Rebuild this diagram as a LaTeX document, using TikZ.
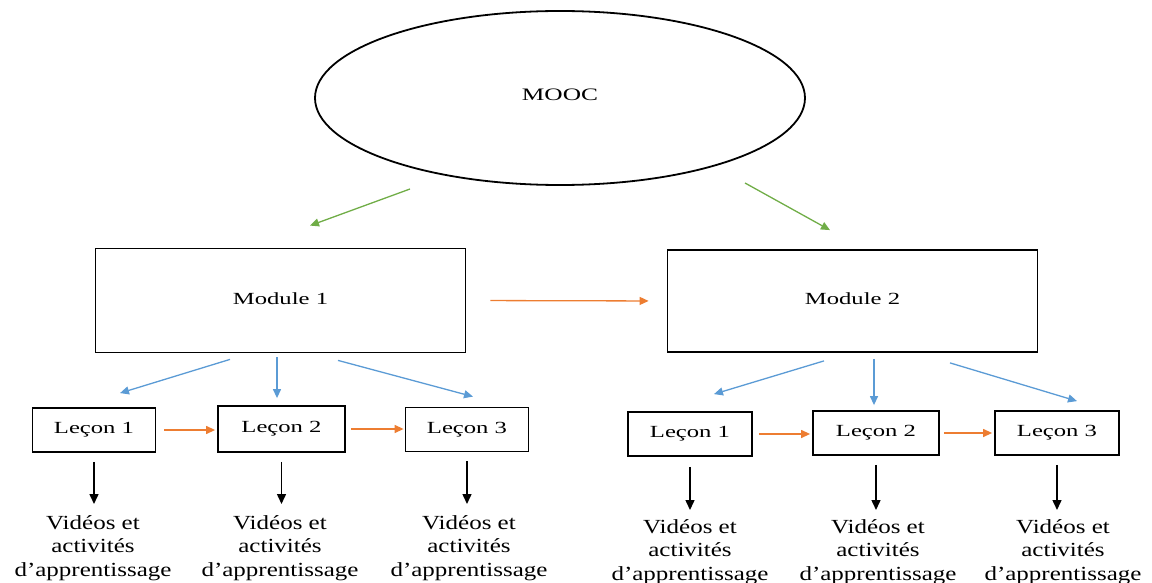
\documentclass[tikz,border=0pt]{standalone}
\usepackage{fontspec}
\setmainfont{Liberation Serif}
\newfontfamily\boxfont[FakeStretch=1.45]{Liberation Serif}
\newfontfamily\notefont[FakeStretch=1.25]{Liberation Serif}
\usetikzlibrary{arrows.meta,shapes.geometric}
\definecolor{arrgreen}{RGB}{112,173,71}
\definecolor{arrblue}{RGB}{91,155,213}
\definecolor{arrorange}{RGB}{237,125,49}
\begin{document}
\begin{tikzpicture}[x=1pt,y=-1pt,
  frame/.style={draw,line width=1.8pt,inner sep=0pt,
    font=\boxfont\fontsize{17}{20}\selectfont},
  lesson/.style={frame,minimum width=123pt,minimum height=44pt},
  module/.style={frame,minimum width=370pt,minimum height=104pt},
  note/.style={align=center,inner sep=0pt,
    font=\notefont\fontsize{20}{23.5}\selectfont},
  link/.style={line width=1.3pt,-{Triangle[length=9pt,width=8pt]}},
  greenlink/.style={link,arrgreen},
  bluelink/.style={link,arrblue},
  orangelink/.style={link,arrorange},
  blacklink/.style={line width=1.5pt,black,-{Triangle[length=10pt,width=9pt]}}]
\useasboundingbox (0,0) rectangle (1152,583);

% course
\node[frame,ellipse,minimum width=490pt,minimum height=174pt,
  font=\boxfont\fontsize{17.5}{20}\selectfont] (mooc) at (560,98) {\raisebox{7pt}{MOOC}};

% modules
\node[module] (m1) at (280.5,300.5) {\raisebox{4pt}{Module 1}};
\node[module,minimum height=102pt] (m2) at (852.5,301) {\raisebox{4pt}{Module 2}};

% lessons of module 1
\node[lesson] (a1) at (94,430) {\raisebox{2pt}{Leçon 1}};
\node[lesson,minimum width=127pt,minimum height=46pt] (a2) at (281.5,429) {\raisebox{2pt}{Leçon 2}};
\node[lesson] (a3) at (467,429.5) {\raisebox{2pt}{Leçon 3}};

% lessons of module 2
\node[lesson,minimum width=124pt] (b1) at (690,434) {\raisebox{2pt}{Leçon 1}};
\node[lesson,minimum width=126pt] (b2) at (876,433) {\raisebox{2pt}{Leçon 2}};
\node[lesson,minimum width=124pt] (b3) at (1057,433) {\raisebox{2pt}{Leçon 3}};

% learning content
\node[note,anchor=north] (va1) at (93,515) {Vidéos et\\activités\\d’apprentissage};
\node[note,anchor=north] (va2) at (280,515) {Vidéos et\\activités\\d’apprentissage};
\node[note,anchor=north] (va3) at (469,515) {Vidéos et\\activités\\d’apprentissage};
\node[note,anchor=north] (vb1) at (690,519) {Vidéos et\\activités\\d’apprentissage};
\node[note,anchor=north] (vb2) at (878,519) {Vidéos et\\activités\\d’apprentissage};
\node[note,anchor=north] (vb3) at (1063,519) {Vidéos et\\activités\\d’apprentissage};

% course to modules
\draw[greenlink] ([shift={(-150,91)}]mooc.center) -- ([shift={(29.5,-22)}]m1.north);
\draw[greenlink] ([shift={(185,85)}]mooc.center) -- ([shift={(-22.5,-19)}]m2.north);

% module order
\draw[orangelink,shorten <=24pt,shorten >=18pt] (m1.east) -- (m2.west);

% modules to lessons
\draw[bluelink] ([shift={(-50.5,6)}]m1.south) -- ([shift={(26,-14)}]a1.north);
\draw[bluelink] ([shift={(-3.5,4)}]m1.south) -- ([shift={(-4.5,-7)}]a2.north);
\draw[bluelink] ([shift={(57.5,7)}]m1.south) -- ([shift={(6,-10)}]a3.north);
\draw[bluelink] ([shift={(-28.5,8)}]m2.south) -- ([shift={(24,-17)}]b1.north);
\draw[bluelink] ([shift={(21.5,6)}]m2.south) -- ([shift={(-2,-5)}]b2.north);
\draw[bluelink] ([shift={(97.5,10)}]m2.south) -- ([shift={(20,-9)}]b3.north);

% lesson order
\draw[orangelink,shorten <=8pt,shorten >=2pt] (a1.east) -- (a1.east -| a2.west);
\draw[orangelink,shorten <=5pt,shorten >=1pt] (a2.east) -- (a2.east -| a3.west);
\draw[orangelink,shorten <=6pt,shorten >=2pt] (b1.east) -- (b1.east -| b2.west);
\draw[orangelink,shorten <=4pt,shorten >=2pt] (b2.east) -- (b2.east -| b3.west);

% lessons to content
\draw[blacklink] ([yshift=-9pt]a1.south) -- ([yshift=11pt]a1.south |- va1.north);
\draw[blacklink] ([yshift=-9pt]a2.south) -- ([yshift=11pt]a2.south |- va2.north);
\draw[blacklink] ([yshift=-9pt]a3.south) -- ([yshift=11pt]a3.south |- va3.north);
\draw[blacklink] ([yshift=-10pt]b1.south) -- ([yshift=9pt]b1.south |- vb1.north);
\draw[blacklink] ([yshift=-9pt]b2.south) -- ([yshift=9pt]b2.south |- vb2.north);
\draw[blacklink] ([yshift=-9pt]b3.south) -- ([yshift=9pt]b3.south |- vb3.north);
\end{tikzpicture}
\end{document}
